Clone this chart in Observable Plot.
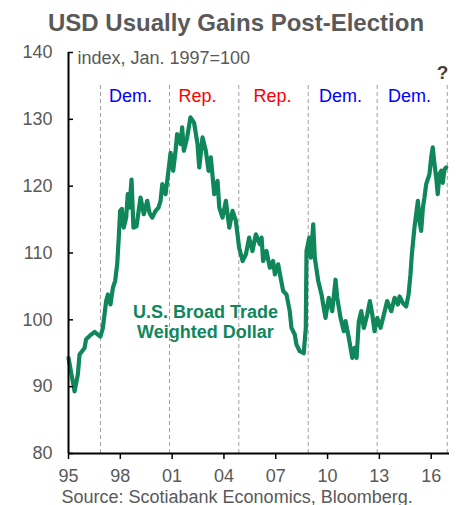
<!DOCTYPE html>
<html><head><meta charset="utf-8">
<script src="https://cdn.jsdelivr.net/npm/d3@7"></script>
<script src="https://cdn.jsdelivr.net/npm/@observablehq/plot@0.6"></script>
<style>body{margin:0;background:#fff}</style>
</head><body><div id="chart"></div>
<script>
const titleText = "USD Usually Gains Post-Election";
const unitText = "index, Jan. 1997=100";
const sourceText = "Source: Scotiabank Economics, Bloomberg.";
const seriesLabel = "U.S. Broad Trade\nWeighted Dollar";

const years = [1995.00,1995.35,1995.54,1995.64,1995.93,1996.02,1996.31,1996.51,1996.70,1996.85,1996.99,1997.18,1997.28,1997.43,1997.57,1997.70,1997.82,1997.91,1997.99,1998.09,1998.20,1998.34,1998.43,1998.53,1998.65,1998.76,1998.94,1999.17,1999.36,1999.56,1999.69,1999.85,2000.04,2000.21,2000.33,2000.43,2000.62,2000.81,2000.91,2001.06,2001.20,2001.29,2001.49,2001.58,2001.68,2001.87,2002.06,2002.27,2002.47,2002.57,2002.76,2002.95,2003.11,2003.24,2003.44,2003.63,2003.73,2003.92,2004.11,2004.31,2004.50,2004.69,2004.88,2005.08,2005.27,2005.46,2005.65,2005.85,2006.08,2006.18,2006.27,2006.46,2006.66,2006.85,2006.95,2007.14,2007.28,2007.43,2007.62,2007.81,2007.91,2008.10,2008.20,2008.39,2008.62,2008.74,2008.78,2008.94,2009.03,2009.17,2009.26,2009.46,2009.65,2009.78,2009.88,2010.07,2010.27,2010.46,2010.56,2010.75,2010.94,2011.04,2011.23,2011.43,2011.56,2011.68,2011.81,2011.95,2012.10,2012.30,2012.45,2012.59,2012.72,2012.88,2013.07,2013.26,2013.45,2013.69,2013.88,2014.07,2014.17,2014.36,2014.55,2014.69,2014.80,2014.88,2015.03,2015.13,2015.23,2015.32,2015.42,2015.52,2015.61,2015.71,2015.90,2016.00,2016.09,2016.19,2016.29,2016.38,2016.48,2016.58,2016.67,2016.77,2016.87];
const usd = [94.3,89.3,91.8,94.8,95.8,97.1,97.8,98.2,97.8,97.5,98.8,102.8,103.8,102.3,104.8,105.8,108.3,112.3,116.3,116.6,113.8,115.3,118.8,116.8,121.0,113.8,114.0,118.3,115.8,117.8,116.0,115.3,116.3,116.8,117.8,120.3,118.8,122.8,125.0,122.3,125.3,127.8,126.3,128.8,125.3,127.3,130.3,129.5,126.3,122.8,127.3,125.3,122.3,124.3,118.8,120.8,116.8,115.3,117.8,113.8,116.3,114.8,110.8,108.8,109.8,112.3,110.3,112.8,111.3,112.3,108.8,110.3,107.8,108.8,106.8,108.3,106.3,104.3,103.8,101.3,98.8,97.8,96.3,95.3,95.0,98.8,110.3,112.3,109.3,114.3,109.3,105.8,103.8,101.8,100.3,103.3,101.3,106.0,103.3,100.3,98.3,99.8,97.3,94.3,95.8,94.3,99.8,101.3,98.8,100.8,102.8,100.8,98.3,100.3,98.8,100.8,102.8,101.3,103.3,102.3,103.5,102.5,102.0,103.8,106.8,109.8,113.8,115.8,117.8,114.8,113.3,116.8,118.3,120.3,121.8,124.3,125.8,123.3,121.3,118.8,121.8,122.3,120.5,122.5,122.8];

const elections = [1996.85, 2000.85, 2004.86, 2008.88, 2012.87, 2016.93];
const parties = ["Dem.", "Rep.", "Rep.", "Dem.", "Dem."];
const partyX = [1998.59, 2002.47, 2006.81, 2010.75, 2014.74];
const partyY = [133.4, 133.4, 133.4, 133.4, 133.4];
const unknownLabel = "?";
const unknownX = 2016.66;
const unknownY = 137.0;

const xTicks = [1995, 1998, 2001, 2004, 2007, 2010, 2013, 2016];
const xTickLabels = ["95", "98", "01", "04", "07", "10", "13", "16"];
const yTicks = [80, 90, 100, 110, 120, 130, 140];

const series = years.map((y, i) => ({year: y, value: usd[i]}));
const partyData = parties.map((p, i) => ({label: p, x: partyX[i], y: partyY[i]}));
const partyColor = {"Dem.": "#0000ff", "Rep.": "#ff0000"};

const GREEN = "#10875b";
const GREY = "#595959";

const chart = Plot.plot({
  width: 456,
  height: 505,
  marginLeft: 68,
  marginRight: 7,
  marginTop: 52,
  marginBottom: 52,
  x: {domain: [1995, 2017.06]},
  y: {domain: [80, 140]},
  style: {fontFamily: "'Liberation Sans', Arial, sans-serif", fontSize: "18px", color: GREY, background: "#fff"},
  marks: [
    Plot.ruleX(elections, {x: d => d, y1: 80, y2: 135.4, stroke: "#a0a0a0", strokeWidth: 1, strokeDasharray: "4,3"}),
    Plot.line(series, {x: "year", y: "value", stroke: GREEN, strokeWidth: 4.2, strokeLinejoin: "round", strokeLinecap: "round"}),
    Plot.ruleX([1995], {y1: 80, y2: 140, stroke: "black", strokeWidth: 2}),
    Plot.ruleY([80], {x1: 1995, x2: 2017.06, stroke: "black", strokeWidth: 2}),
    Plot.axisY(yTicks, {anchor: "left", tickSize: -5, tickPadding: 21, stroke: "black", strokeWidth: 1.5, label: null, fontSize: 18}),
    Plot.axisX(xTicks, {anchor: "bottom", tickSize: 6, tickPadding: 10, stroke: "black", strokeWidth: 1.5, label: null, fontSize: 18, tickFormat: d => xTickLabels[xTicks.indexOf(d)]}),
    Plot.text(partyData, {x: "x", y: "y", text: "label", fill: d => partyColor[d.label], fontSize: 18}),
    Plot.text([unknownLabel], {x: unknownX, y: unknownY, text: d => d, fill: "#404040", fontSize: 19, fontWeight: "bold"}),
    Plot.text([unitText], {x: 1995.52, y: 139.1, text: d => d, textAnchor: "start", fontSize: 18, fill: GREY}),
    Plot.text([seriesLabel], {x: 2002.93, y: 99.8, text: d => d, fontSize: 18, fontWeight: "bold", fill: GREEN, lineHeight: 1.11}),
    Plot.text([titleText], {frameAnchor: "top", lineAnchor: "middle", dx: -23, dy: -29, text: d => d, fontSize: 24, fontWeight: "bold", fill: GREY}),
    Plot.text([sourceText], {frameAnchor: "bottom-left", lineAnchor: "middle", dx: -7, dy: 44, text: d => d, textAnchor: "start", fontSize: 18, fill: GREY})
  ]
});
document.getElementById("chart").appendChild(chart);
</script></body></html>
